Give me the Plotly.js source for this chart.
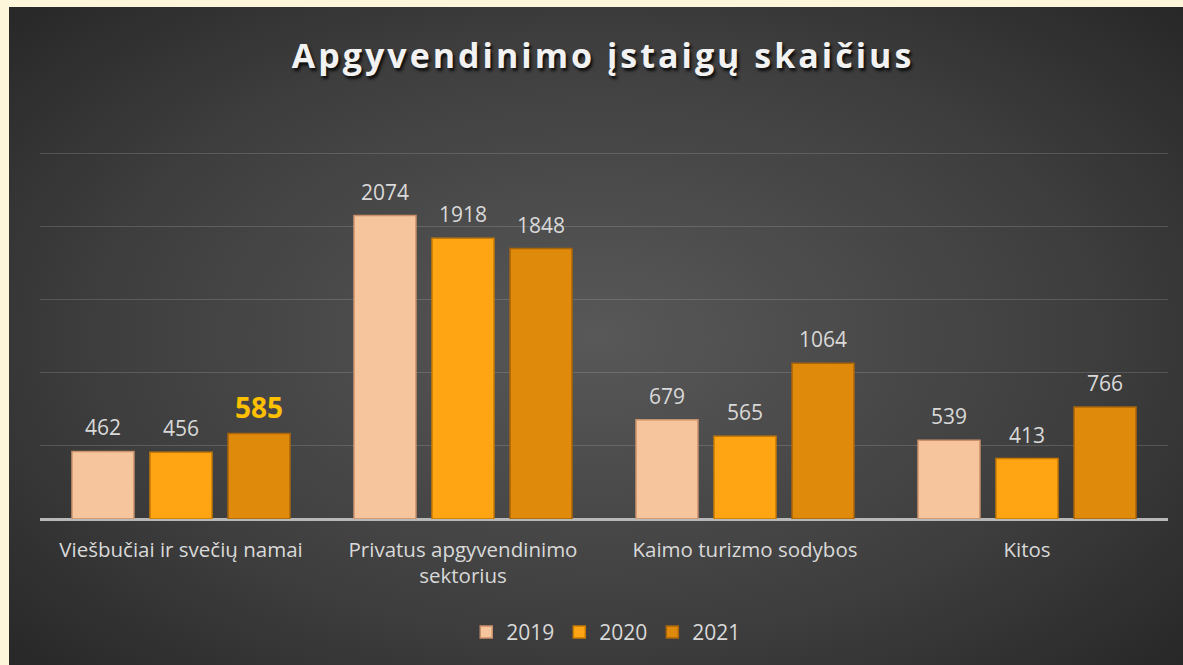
<!DOCTYPE html>
<html>
<head>
<meta charset="utf-8">
<script src="https://cdn.plot.ly/plotly-3.0.1.min.js"></script>
<style>
html,body{margin:0;padding:0;width:1183px;height:665px;overflow:hidden;background:#fef6da;}
#wrap{position:absolute;left:9px;top:7px;width:1174px;height:658px;
background:radial-gradient(ellipse 70% 75% at 50% 50%, #585858 0%, #3e3e3e 60%, #262626 100%);}
#chart{width:1174px;height:658px;}
.gtitle{letter-spacing:3px;}
</style>
</head>
<body>
<div id="wrap"><div id="chart"></div></div>
<script>
const categories = ["Viešbučiai ir svečių namai", "Privatus apgyvendinimo<br>sektorius", "Kaimo turizmo sodybos", "Kitos"];
const years = ["2019", "2020", "2021"];
const values2019 = [462, 2074, 679, 539];
const values2020 = [456, 1918, 565, 413];
const values2021 = [585, 1848, 1064, 766];
const highlightLabel = {series: 2, index: 0};

const series = [values2019, values2020, values2021];
const fills = ["#f6c59d", "#ffa412", "#e08a0b"];
const edges = ["#c9906a", "#c67a05", "#a8650a"];

const traces = series.map((vals, i) => ({
  type: "bar",
  name: years[i],
  x: categories,
  y: vals,
  marker: {color: fills[i], line: {color: edges[i], width: 1.5}},
  hoverinfo: "skip"
}));

const annotations = [];
series.forEach((vals, i) => {
  vals.forEach((v, j) => {
    const hl = highlightLabel.series === i && highlightLabel.index === j;
    annotations.push({
      x: categories[j], y: v, xref: "x", yref: "y",
      text: String(v), showarrow: false,
      xshift: (i - 1) * 78, yanchor: "bottom", yshift: hl ? 5 : 8,
      font: hl ? {family: "Open Sans, sans-serif", size: 28, color: "#ffc000", weight: 700}
               : {family: "Open Sans, sans-serif", size: 21, color: "#d9d9d9"}
    });
  });
});

const layout = {
  width: 1174, height: 658,
  paper_bgcolor: "rgba(0,0,0,0)", plot_bgcolor: "rgba(0,0,0,0)",
  margin: {l: 31, r: 15, t: 144, b: 146},
  title: {
    text: "Apgyvendinimo įstaigų skaičius",
    x: 0.506, xanchor: "center", y: 0.926, yanchor: "middle",
    font: {family: "Open Sans, sans-serif", size: 34, color: "#f2f2f2", weight: 700,
           shadow: "2px 3px 3px rgba(0,0,0,0.8)"}
  },
  barmode: "group", bargap: 0.17, bargroupgap: 0.205,
  xaxis: {
    showgrid: false, zeroline: false, showline: false,
    ticks: "outside", ticklen: 12, tickcolor: "rgba(0,0,0,0)",
    tickfont: {family: "Open Sans, sans-serif", size: 20.5, color: "#d9d9d9"}
  },
  yaxis: {
    range: [0, 2515], tick0: 0, dtick: 500,
    showticklabels: false, showgrid: true, gridcolor: "rgba(255,255,255,0.15)", gridwidth: 1,
    zeroline: true, zerolinecolor: "#b8b8b8", zerolinewidth: 3
  },
  showlegend: true,
  legend: {
    orientation: "h", x: 0.502, xanchor: "center", y: -0.308, yanchor: "middle",
    font: {family: "Open Sans, sans-serif", size: 21, color: "#d9d9d9"},
    itemwidth: 30, bgcolor: "rgba(0,0,0,0)", tracegroupgap: 0
  },
  annotations: annotations
};

Plotly.newPlot("chart", traces, layout, {displayModeBar: false, staticPlot: true});
</script>
</body>
</html>
